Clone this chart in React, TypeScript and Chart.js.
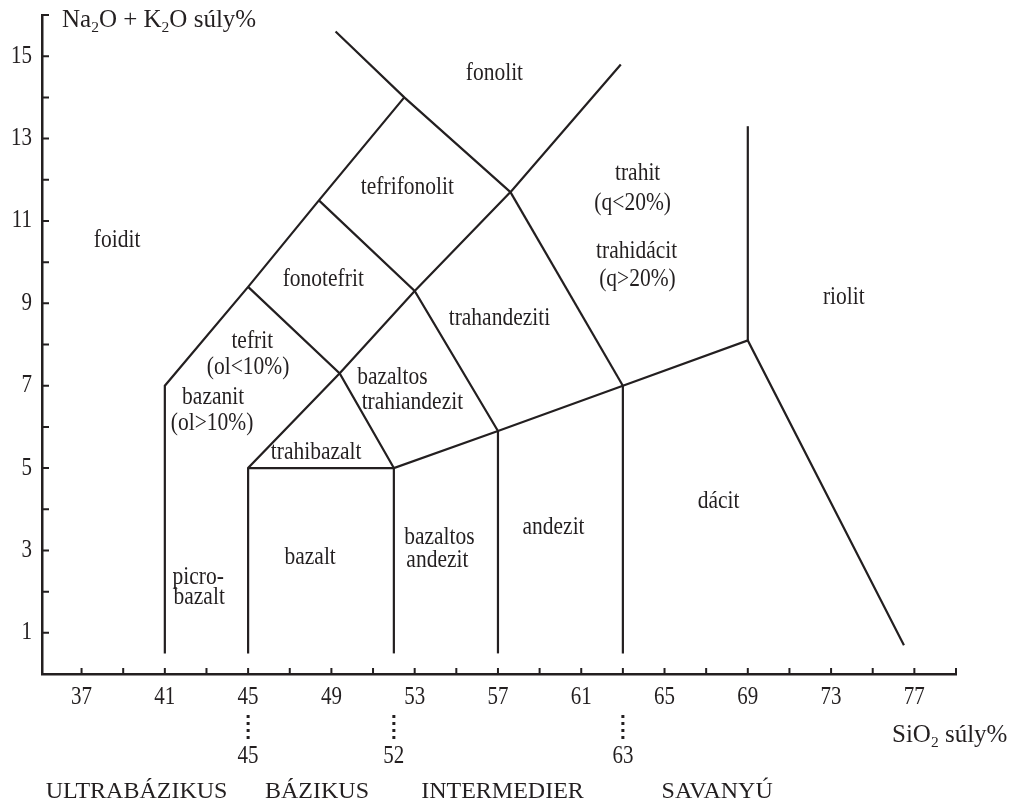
import { useEffect, useRef } from "react";
import { Chart, registerables } from "chart.js";

Chart.register(...registerables);

const INK = "#231f20";
const FONT = "'Liberation Serif', 'Times New Roman', Times, serif";

// Axis ranges (SiO2 on x, Na2O + K2O on y, weight %)
const xMin = 35.1;
const xMax = 79;
const yMin = 0;
const yMax = 16;

// Tick marks and labelled ticks
const xTickValues = [37, 39, 41, 43, 45, 47, 49, 51, 53, 55, 57, 59, 61, 63, 65, 67, 69, 71, 73, 75, 77, 79];
const xTickLabels = [37, 41, 45, 49, 53, 57, 61, 65, 69, 73, 77];
const yTickValues = [1, 2, 3, 4, 5, 6, 7, 8, 9, 10, 11, 12, 13, 14, 15, 16];
const yTickLabels = [1, 3, 5, 7, 9, 11, 13, 15];

// Field boundaries of the TAS classification, [SiO2, Na2O + K2O]
const foiditBoundary = [[41, 0.5], [41, 7], [45, 9.4], [48.4, 11.5], [52.5, 14]];
const fonolitBoundary = [[49.2, 15.6], [52.5, 14], [57.6, 11.7], [62.9, 14.8]];
const bazaltTefritBoundary = [[45, 0.5], [45, 5], [49.4, 7.3], [53, 9.3], [57.6, 11.7]];
const tefritBoundary = [[45, 9.4], [49.4, 7.3], [52, 5]];
const fonotefritBoundary = [[48.4, 11.5], [53, 9.3], [57, 5.9]];
const trahitBoundary = [[57.6, 11.7], [63, 7]];
const subalkaliBoundary = [[45, 5], [52, 5], [57, 5.9], [63, 7], [69, 8.1], [76.5, 0.7]];
const bazaltAndezitBoundary = [[52, 0.5], [52, 5]];
const andezitBoundary = [[57, 0.5], [57, 5.9]];
const dacitBoundary = [[63, 0.5], [63, 7]];
const riolitBoundary = [[69, 8.1], [69, 13.3]];

const boundaries = [
  foiditBoundary,
  fonolitBoundary,
  bazaltTefritBoundary,
  tefritBoundary,
  fonotefritBoundary,
  trahitBoundary,
  subalkaliBoundary,
  bazaltAndezitBoundary,
  andezitBoundary,
  dacitBoundary,
  riolitBoundary,
];

// Field names, anchored at data coordinates
const fieldNames = [
  "foidit", "fonolit", "tefrifonolit", "fonotefrit", "tefrit", "(ol<10%)",
  "bazanit", "(ol>10%)", "bazaltos", "trahiandezit", "trahibazalt", "trahandeziti",
  "trahit", "(q<20%)", "trahidácit", "(q>20%)", "riolit", "dácit",
  "andezit", "bazaltos", "andezit", "bazalt", "picro-", "bazalt",
];
const fieldX = [
  38.71, 56.83, 52.65, 48.61, 45.2, 45.0,
  43.32, 43.27, 51.93, 52.89, 48.27, 57.07,
  63.71, 63.47, 63.66, 63.7, 73.61, 67.6,
  59.67, 54.19, 54.09, 47.98, 42.6, 42.65,
];
const fieldY = [
  10.54, 14.59, 11.82, 9.57, 8.08, 7.45,
  6.72, 6.09, 7.21, 6.6, 5.39, 8.64,
  12.16, 11.43, 10.27, 9.59, 9.15, 4.18,
  3.57, 3.33, 2.77, 2.84, 2.35, 1.85,
];

// SiO2 limits of the rock groups and the group names
const groupLimits = [45, 52, 63];
const groupNames = ["ULTRABÁZIKUS", "BÁZIKUS", "INTERMEDIER", "SAVANYÚ"];
const groupX = [39.64, 48.31, 57.22, 67.53];

type Seg = { t: string; sub?: boolean };

function drawRich(
  ctx: CanvasRenderingContext2D,
  segs: Seg[],
  x: number,
  y: number,
  size: number,
  align: "left" | "center" | "right",
  baseline: CanvasTextBaseline,
  stretch = 1
) {
  ctx.save();
  ctx.translate(x, y);
  ctx.scale(1, stretch);
  ctx.textBaseline = baseline;
  ctx.textAlign = "left";
  ctx.fillStyle = INK;
  const subSize = size * 0.62;
  const widths = segs.map((s) => {
    ctx.font = `${s.sub ? subSize : size}px ${FONT}`;
    return ctx.measureText(s.t).width;
  });
  const total = widths.reduce((a, b) => a + b, 0);
  let cx = align === "center" ? -total / 2 : align === "right" ? -total : 0;
  segs.forEach((s, i) => {
    ctx.font = `${s.sub ? subSize : size}px ${FONT}`;
    ctx.fillText(s.t, cx, s.sub ? size * 0.2 : 0);
    cx += widths[i];
  });
  ctx.restore();
}

const LABEL_SIZE = 21.5;
const TICK_SIZE = 21;
const STRETCH = 1.18;

const diagramDecor = {
  id: "diagramDecor",
  beforeDraw(chart: Chart) {
    const { ctx, width, height } = chart;
    ctx.save();
    ctx.fillStyle = "#ffffff";
    ctx.fillRect(0, 0, width, height);
    ctx.restore();
  },
  afterDraw(chart: Chart) {
    const { ctx, chartArea } = chart;
    const xs = chart.scales.x;
    const ys = chart.scales.y;
    ctx.save();
    ctx.strokeStyle = INK;
    ctx.lineWidth = 2;

    // inward tick marks
    ctx.beginPath();
    xTickValues.forEach((v) => {
      const px = xs.getPixelForValue(v);
      ctx.moveTo(px, chartArea.bottom);
      ctx.lineTo(px, chartArea.bottom - 6);
    });
    yTickValues.forEach((v) => {
      const py = ys.getPixelForValue(v);
      ctx.moveTo(chartArea.left, py);
      ctx.lineTo(chartArea.left + 7, py);
    });
    ctx.stroke();

    // tick labels
    xTickLabels.forEach((v) => {
      drawRich(ctx, [{ t: String(v) }], xs.getPixelForValue(v), chartArea.bottom + 23, TICK_SIZE, "center", "middle", STRETCH);
    });
    yTickLabels.forEach((v) => {
      drawRich(ctx, [{ t: String(v) }], chartArea.left - 10, ys.getPixelForValue(v), TICK_SIZE, "right", "middle", STRETCH);
    });

    // axis titles
    drawRich(
      ctx,
      [{ t: "Na" }, { t: "2", sub: true }, { t: "O + K" }, { t: "2", sub: true }, { t: "O súly%" }],
      chartArea.left + 20,
      27,
      25,
      "left",
      "alphabetic"
    );
    drawRich(
      ctx,
      [{ t: "SiO" }, { t: "2", sub: true }, { t: " súly%" }],
      892,
      chartArea.bottom + 68,
      25,
      "left",
      "alphabetic"
    );

    // field names
    fieldNames.forEach((name, i) => {
      drawRich(ctx, [{ t: name }], xs.getPixelForValue(fieldX[i]), ys.getPixelForValue(fieldY[i]), LABEL_SIZE, "center", "middle", STRETCH);
    });

    // dotted group limits below the axis
    ctx.lineWidth = 3;
    ctx.setLineDash([3, 4]);
    groupLimits.forEach((v) => {
      const px = xs.getPixelForValue(v);
      ctx.beginPath();
      ctx.moveTo(px, chartArea.bottom + 41);
      ctx.lineTo(px, chartArea.bottom + 69);
      ctx.stroke();
      drawRich(ctx, [{ t: String(v) }], px, chartArea.bottom + 82, TICK_SIZE, "center", "middle", STRETCH);
    });
    ctx.setLineDash([]);

    // rock group names
    groupNames.forEach((name, i) => {
      drawRich(ctx, [{ t: name }], xs.getPixelForValue(groupX[i]), chartArea.bottom + 124, 24, "center", "alphabetic");
    });

    ctx.restore();
  },
};

export default function App() {
  const canvasRef = useRef<HTMLCanvasElement | null>(null);

  useEffect(() => {
    const canvas = canvasRef.current;
    if (!canvas) return;
    const chart = new Chart(canvas, {
      type: "scatter",
      data: {
        datasets: boundaries.map((line, i) => ({
          label: `boundary ${i + 1}`,
          data: line.map(([x, y]) => ({ x, y })),
          showLine: true,
          borderColor: INK,
          borderWidth: 2.2,
          borderJoinStyle: "miter" as CanvasLineJoin,
          pointRadius: 0,
          pointHoverRadius: 0,
          tension: 0,
          fill: false,
        })),
      },
      options: {
        animation: false,
        responsive: false,
        devicePixelRatio: 1,
        events: [],
        layout: { padding: { left: 42, top: 15, right: 58, bottom: 128 } },
        plugins: {
          legend: { display: false },
          tooltip: { enabled: false },
        },
        scales: {
          x: {
            type: "linear",
            min: xMin,
            max: xMax,
            grid: { display: false, drawTicks: false },
            border: { display: true, color: INK, width: 2.5 },
            ticks: { display: false },
          },
          y: {
            type: "linear",
            min: yMin,
            max: yMax,
            grid: { display: false, drawTicks: false },
            border: { display: true, color: INK, width: 2.5 },
            ticks: { display: false },
          },
        },
      },
      plugins: [diagramDecor],
    });
    return () => chart.destroy();
  }, []);

  return (
    <div style={{ position: "absolute", left: 0, top: 0, width: 1014, height: 802, background: "#fff" }}>
      <canvas ref={canvasRef} width={1014} height={802} style={{ display: "block" }} />
    </div>
  );
}
